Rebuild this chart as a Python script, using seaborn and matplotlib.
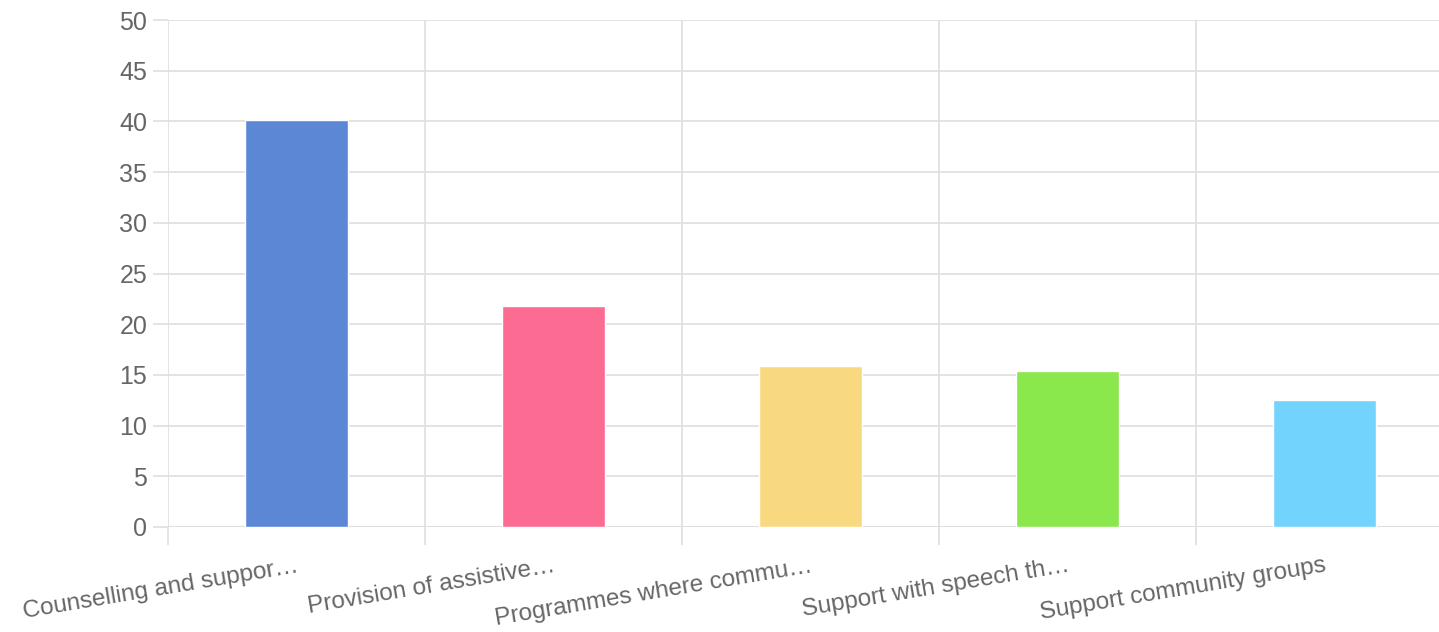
import numpy as np
import pandas as pd
import seaborn as sns
import matplotlib.pyplot as plt
from matplotlib.ticker import FixedLocator

categories = [
    "Counselling and suppor\u2026",
    "Provision of assistive\u2026",
    "Programmes where commu\u2026",
    "Support with speech th\u2026",
    "Support community groups",
]
values = [40.1, 21.8, 15.9, 15.4, 12.5]
colors = ["#5b87d4", "#fc6b91", "#f9d97f", "#8ae74c", "#72d3fd"]
y_ticks = list(range(0, 55, 5))

sns.set_style("white")
plt.rcParams["font.family"] = ["Liberation Sans", "DejaVu Sans"]

df = pd.DataFrame({"category": categories, "value": values})

fig = plt.figure(figsize=(14.39, 6.32), dpi=100)
ax = fig.add_axes([168 / 1439, 1 - 527 / 632, 1 - 168 / 1439, (527 - 20) / 632])

sns.barplot(
    data=df, x="category", y="value", hue="category",
    palette=colors, width=0.4, legend=False, ax=ax, saturation=1,
)

n = len(categories)
ax.set_ylim(0, 50)
ax.set_yticks(y_ticks)
ax.set_xlabel("")
ax.set_ylabel("")

for s in ax.spines.values():
    s.set_visible(False)

grid_c = "#e0e0e0"
ax.yaxis.grid(True, color=grid_c, lw=1.3)
ax.xaxis.set_minor_locator(FixedLocator(np.arange(-0.5, n, 1.0)))
ax.xaxis.grid(True, which="minor", color=grid_c, lw=1.3)
ax.set_axisbelow(True)

ax.tick_params(axis="y", left=True, length=11, color=grid_c, width=1.3,
               labelsize=18, labelcolor="#666666", pad=4)
ax.tick_params(axis="x", which="minor", bottom=True, length=13, color=grid_c,
               width=1.3)
ax.tick_params(axis="x", which="major", bottom=True, length=0, labelsize=17.5,
               labelcolor="#666666", pad=20)
plt.setp(ax.get_xticklabels(), rotation=9.5, ha="right", rotation_mode="anchor")
ax.axhline(0, color="#d5d5d5", lw=1.5, zorder=0.5)

# the original chart is clipped at the right edge
ax.set_xlim(-0.5, n - 0.5 - 14 / 257)

fig.savefig("out.png", dpi=100)
